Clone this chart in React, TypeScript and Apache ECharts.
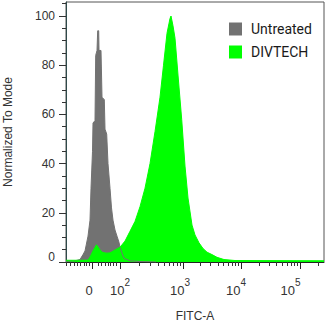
import React, { useEffect, useRef } from 'react';
import * as echarts from 'echarts';

// Display channel (0..258 across the plot width) and % of mode
const untreatedX = [0, 9, 14, 17, 19, 22, 24, 25, 26.5, 27, 29, 29.7, 31, 31.7, 32.7, 33, 35, 36, 38.3, 39, 40.7, 42, 44, 45.5, 47, 49, 51, 53, 54, 56, 58, 64, 74, 90];
const untreatedY = [0.3, 0.5, 1, 3, 4.5, 10.5, 17, 30, 45, 56.5, 57.5, 84, 86, 94, 94, 86, 86, 67, 66, 54, 52, 40, 30, 22, 17, 13, 10.5, 8, 6, 3.6, 1.5, 0.5, 0.2, 0];

const divtechX = [0, 14, 22, 24, 27, 30.5, 33, 36, 40, 44, 49, 54, 59, 64, 69, 74, 79, 84, 89, 94, 97.5, 101, 104, 105, 107, 109, 112, 115.7, 119, 122, 126, 129, 133, 137, 141, 146, 151, 158, 169, 258];
const divtechY = [0.7, 0.7, 0.8, 2, 4.5, 7, 5.5, 4, 3.6, 3.7, 4.9, 6, 8.5, 12.5, 16.5, 22.5, 30, 40, 53, 67, 80, 93, 99, 100, 96, 91, 76, 58, 39, 26, 15, 11, 7.8, 5.5, 4, 3, 1.9, 1, 0.6, 0.5];

const seriesNames = ['Untreated', 'DIVTECH'];

// x axis decade positions (display channel) and their labels
const xMajorValues = [26, 54, 117, 175, 234];
const xMajorLabels = ['0', '10^2', '10^3', '10^4', '10^5'];
const xLinearMinor = [0.7, 4, 8, 11, 14.7, 18, 20.7, 23.3, 32.3, 35.7, 39, 42, 44.7, 47.3, 50];

const yMajorValues = [0, 20, 40, 60, 80, 100];
const yMinorValues = [5, 10, 15, 25, 30, 35, 45, 50, 55, 65, 70, 75, 85, 90, 95, 105];

const X_MIN = 0;
const X_MAX = 258;
const Y_MAX = 105.7;

function logMinors(): number[] {
  const out: number[] = [];
  const decades = [...xMajorValues.slice(1), 293];
  for (let i = 0; i < decades.length - 1; i++) {
    const a = decades[i];
    const b = decades[i + 1];
    for (let m = 2; m <= 9; m++) {
      const v = a + Math.log10(m) * (b - a);
      if (v <= X_MAX) out.push(v);
    }
  }
  return out;
}

const FONT = '"Liberation Sans", Arial, sans-serif';
const TXT = '#333';

export default function App() {
  const ref = useRef<HTMLDivElement>(null);
  useEffect(() => {
    document.body.style.margin = '0';
    if (!ref.current) return;
    const chart = echarts.init(ref.current, null, { renderer: 'svg' });
    const pad = [6, 0, 6, 10, 19];
    const baseRich: any = {
      a: { fontSize: 13, lineHeight: 26, fontFamily: FONT, color: TXT },
    };
    pad.forEach((p, i) => {
      baseRich['z' + i] = { fontSize: 13, lineHeight: 26, fontFamily: FONT, color: TXT, padding: [0, p, 0, 0] };
      baseRich['s' + i] = { fontSize: 10, lineHeight: 9, verticalAlign: 'top', fontFamily: FONT, color: TXT, padding: [0, p, 0, 0] };
    });
    const xFormatter = (v: number) => {
      let idx = -1;
      xMajorValues.forEach((mv, i) => { if (Math.abs(mv - v) < 0.01) idx = i; });
      if (idx < 0) return '';
      const lab = xMajorLabels[idx];
      if (lab.indexOf('^') < 0) return `{z${idx}|${lab}}`;
      const [b, e] = lab.split('^');
      return `{a|${b}}{s${idx}|${e}}`;
    };
    const mk = (xs: number[], ys: number[]) => xs.map((x, i) => [x, ys[i]]);
    chart.setOption({
      animation: false,
      grid: {
        left: 66, right: 4, top: 2, bottom: 62, show: true, borderColor: '#555', borderWidth: 1,
        backgroundColor: 'transparent', containLabel: false, outerBoundsMode: 'none',
      },
      legend: {
        orient: 'vertical', left: 224, top: 17, itemWidth: 13, itemHeight: 13, itemGap: 9, icon: 'rect',
        data: seriesNames,
        textStyle: { fontFamily: 'Roboto', fontSize: 14, color: '#1a1a1a', lineHeight: 13, padding: [0, 0, 0, 4] },
      },
      xAxis: [
        {
          type: 'value', min: X_MIN, max: X_MAX, position: 'bottom', offset: 0,
          name: 'FITC-A', nameLocation: 'middle', nameGap: 48,
          nameTextStyle: { fontFamily: FONT, fontSize: 12, color: TXT },
          axisLine: { show: true, lineStyle: { color: '#222', width: 1 } },
          axisTick: { show: true, length: 7, customValues: xMajorValues, lineStyle: { color: '#222' } },
          axisLabel: { show: true, customValues: xMajorValues, margin: 15, formatter: xFormatter, rich: baseRich },
          splitLine: { show: false },
        },
        {
          type: 'value', min: X_MIN, max: X_MAX, position: 'bottom', offset: 0,
          axisLine: { show: false },
          axisTick: { show: true, length: 4, customValues: [...xLinearMinor, ...logMinors()], lineStyle: { color: '#333' } },
          axisLabel: { show: false },
          splitLine: { show: false },
        },
      ],
      yAxis: [
        {
          type: 'value', min: 0, max: Y_MAX, position: 'left', offset: 0,
          name: 'Normalized To Mode', nameLocation: 'middle', nameGap: 52,
          nameTextStyle: { fontFamily: FONT, fontSize: 12, color: TXT },
          axisLine: { show: true, lineStyle: { color: '#2f4a4a', width: 1 } },
          axisTick: { show: true, length: 7, customValues: yMajorValues, lineStyle: { color: '#333' } },
          axisLabel: {
            show: true, customValues: yMajorValues, margin: 11, fontFamily: FONT, fontSize: 12, color: TXT,
            formatter: (v: number) => (v === 0 ? '{z|0}' : String(v)),
            rich: { z: { fontFamily: FONT, fontSize: 12, color: TXT, padding: [0, 0, 10, 0] } },
          },
          splitLine: { show: false },
        },
        {
          type: 'value', min: 0, max: Y_MAX, position: 'left', offset: 0,
          axisLine: { show: false },
          axisTick: { show: true, length: 4, customValues: yMinorValues, lineStyle: { color: '#333' } },
          axisLabel: { show: false },
          splitLine: { show: false },
        },
      ],
      series: [
        {
          name: seriesNames[0], type: 'line', data: mk(untreatedX, untreatedY), showSymbol: false, symbol: 'none',
          itemStyle: { color: '#727272' }, lineStyle: { color: '#727272', width: 1 },
          areaStyle: { color: '#727272', opacity: 1 }, silent: true,
        },
        {
          name: seriesNames[1], type: 'line', data: mk(divtechX, divtechY), showSymbol: false, symbol: 'none',
          itemStyle: { color: '#00ff00' }, lineStyle: { color: '#00ff00', width: 1 },
          areaStyle: { color: '#00ff00', opacity: 1 }, silent: true,
        },
      ],
    });
    return () => chart.dispose();
  }, []);
  return <div ref={ref} style={{ width: 328, height: 324 }} />;
}
